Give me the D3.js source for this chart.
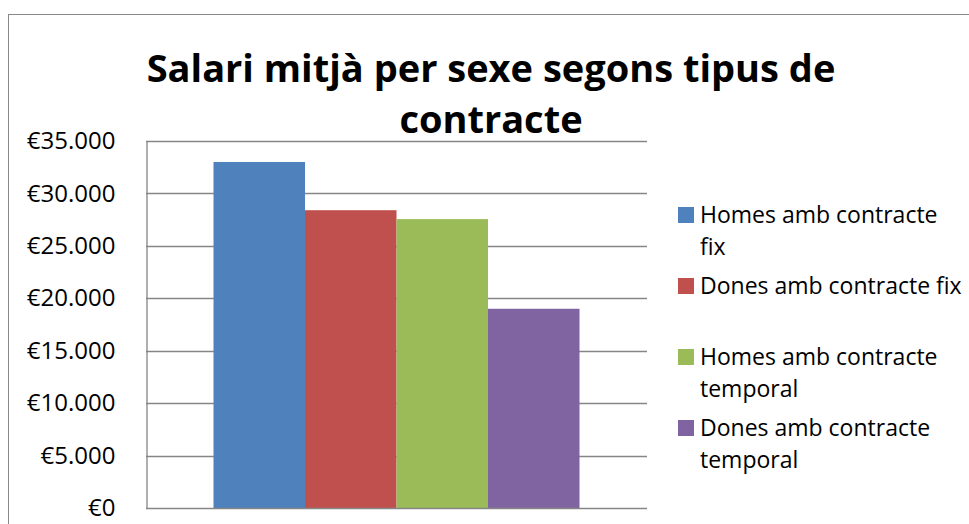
<!DOCTYPE html>
<html>
<head>
<meta charset="utf-8">
<script src="https://cdn.jsdelivr.net/npm/d3@7"></script>
<style>
  html, body { margin: 0; padding: 0; background: #ffffff; }
  svg { display: block; }
</style>
</head>
<body>
<svg id="chart" width="969" height="524"></svg>
<script>
// ---- data ----
const titleLines = ["Salari mitjà per sexe segons tipus de", "contracte"];
const categories = ["Salari mitjà"];
const seriesNames = ["Homes amb contracte fix", "Dones amb contracte fix", "Homes amb contracte temporal", "Dones amb contracte temporal"];
const legendLines = [["Homes amb contracte", "fix"], ["Dones amb contracte fix"], ["Homes amb contracte", "temporal"], ["Dones amb contracte", "temporal"]];
const seriesValues = [33000, 28400, 27550, 19000];
const seriesColors = ["#4F81BD", "#C0504D", "#9BBB59", "#8064A2"];
const yTicks = [0, 5000, 10000, 15000, 20000, 25000, 30000, 35000];

// ---- layout ----
const svg = d3.select("#chart");
const plot = { left: 146, right: 647, top: 141, bottom: 508 };
const font = "'Open Sans', sans-serif";
const gridColor = "#868686";

// outer chart border
svg.append("rect")
  .attr("x", 8.5).attr("y", 14.5)
  .attr("width", 1000).attr("height", 600)
  .attr("fill", "#ffffff").attr("stroke", "#898989").attr("stroke-width", 1);

// scales
const y = d3.scaleLinear().domain([0, 35000]).range([plot.bottom, plot.top]);
const x0 = d3.scaleBand().domain(categories).range([plot.left, plot.right]).paddingInner(0.1557).paddingOuter(0.1557);
const x1 = d3.scaleBand().domain(seriesNames).range([0, x0.bandwidth()]).padding(0);

// gridlines
svg.append("g").selectAll("line").data(yTicks.filter(d => d > 0)).join("line")
  .attr("x1", plot.left).attr("x2", plot.right)
  .attr("y1", d => Math.round(y(d)) + 0.5).attr("y2", d => Math.round(y(d)) + 0.5)
  .attr("stroke", gridColor).attr("stroke-width", 1.3);

// y axis
const fmt = d => "€" + (d === 0 ? "0" : d3.format(",")(d).replace(/,/g, "."));
const yAxis = d3.axisLeft(y).tickValues(yTicks).tickFormat(fmt).tickSize(0).tickPadding(31);
const gy = svg.append("g").attr("transform", `translate(${plot.left + 0.5},0)`).call(yAxis);
gy.select(".domain").attr("stroke", gridColor).attr("stroke-width", 1.3);
gy.selectAll("text").attr("font-family", font).attr("font-size", 24).attr("fill", "#000");

// bars
const groups = svg.append("g").selectAll("g").data(categories).join("g")
  .attr("transform", d => `translate(${x0(d)},0)`);
groups.selectAll("rect").data(() => seriesNames.map((s, i) => ({ s, v: seriesValues[i], c: seriesColors[i] })))
  .join("rect")
  .attr("x", d => x1(d.s)).attr("width", x1.bandwidth())
  .attr("y", d => y(d.v)).attr("height", d => y(0) - y(d.v))
  .attr("fill", d => d.c);

// x axis baseline
svg.append("line")
  .attr("x1", plot.left).attr("x2", plot.right)
  .attr("y1", plot.bottom + 0.5).attr("y2", plot.bottom + 0.5)
  .attr("stroke", gridColor).attr("stroke-width", 1.3);

// title
svg.append("g").selectAll("text").data(titleLines).join("text")
  .attr("x", 491).attr("y", (d, i) => 82 + i * 51)
  .attr("text-anchor", "middle")
  .attr("font-family", font).attr("font-weight", "bold").attr("font-size", 38)
  .attr("fill", "#000").text(d => d);

// legend
const legend = svg.append("g");
const items = legend.selectAll("g").data(seriesNames).join("g")
  .attr("transform", (d, i) => `translate(678, ${215 + i * 71})`);
items.append("rect").attr("x", 0).attr("y", -8).attr("width", 16).attr("height", 16)
  .attr("fill", (d, i) => seriesColors[i]);
items.append("text")
  .attr("font-family", font).attr("font-size", 23).attr("fill", "#000")
  .selectAll("tspan").data((d, i) => legendLines[i]).join("tspan")
  .attr("x", 22).attr("y", (d, j) => j * 32).attr("dy", "0.35em")
  .text(d => d);
</script>
</body>
</html>
